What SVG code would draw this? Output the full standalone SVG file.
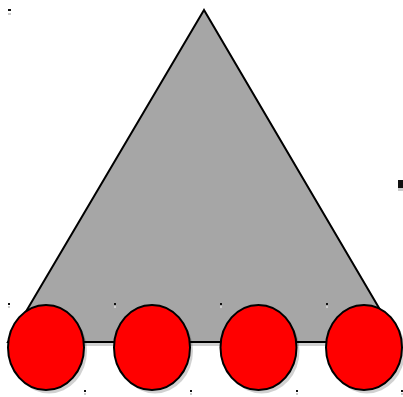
<svg xmlns="http://www.w3.org/2000/svg" width="403" height="397" viewBox="0 0 403 397">
<style>
.sh{fill:#000;fill-opacity:0.18}
.tri{fill:#a6a6a6;stroke:#000;stroke-width:2;stroke-linejoin:miter}
.el{fill:#ff0000;stroke:#000;stroke-width:2}
.mk{fill:#111}
.mks{fill:#ccc}
</style>
<rect width="403" height="397" fill="#fff"/>
<g id="triangle">
<polygon class="sh" points="207,14 11,346 402,346"/>
<polygon class="tri" points="204,10 8,342 399,342"/>
</g>
<g id="connectors"></g>
<g id="node1"><ellipse class="sh" cx="49" cy="351" rx="38" ry="42.5"/><ellipse class="el" cx="46" cy="347.5" rx="38" ry="42.5"/></g>
<g id="node2"><ellipse class="sh" cx="155" cy="351" rx="38" ry="42.5"/><ellipse class="el" cx="152" cy="347.5" rx="38" ry="42.5"/></g>
<g id="node3"><ellipse class="sh" cx="261.5" cy="351" rx="38" ry="42.5"/><ellipse class="el" cx="258.5" cy="347.5" rx="38" ry="42.5"/></g>
<g id="node4"><ellipse class="sh" cx="367" cy="351" rx="38" ry="42.5"/><ellipse class="el" cx="364" cy="347.5" rx="38" ry="42.5"/></g>
<g id="marks">
<rect class="mk" x="8" y="9" width="3" height="2"/><rect class="mks" x="8" y="13" width="3" height="2"/>
<rect class="mk" x="398" y="180" width="5" height="8"/><rect class="mks" x="398" y="188" width="5" height="3"/>
<rect class="mk" x="8" y="303" width="2" height="2"/><rect class="mks" x="8" y="306" width="2" height="2"/>
<rect class="mk" x="114" y="303" width="2" height="2"/><rect class="mks" x="114" y="306" width="2" height="2"/>
<rect class="mk" x="220" y="303" width="2" height="2"/><rect class="mks" x="220" y="306" width="2" height="2"/>
<rect class="mk" x="326" y="303" width="2" height="2"/><rect class="mks" x="326" y="306" width="2" height="2"/>
<rect class="mk" x="84" y="390" width="2" height="2"/><rect class="mks" x="84" y="393" width="2" height="2"/>
<rect class="mk" x="190" y="390" width="2" height="2"/><rect class="mks" x="190" y="393" width="2" height="2"/>
<rect class="mk" x="296" y="390" width="2" height="2"/><rect class="mks" x="296" y="393" width="2" height="2"/>
<rect class="mk" x="401" y="390" width="2" height="2"/><rect class="mks" x="401" y="393" width="2" height="2"/>
</g>
</svg>
